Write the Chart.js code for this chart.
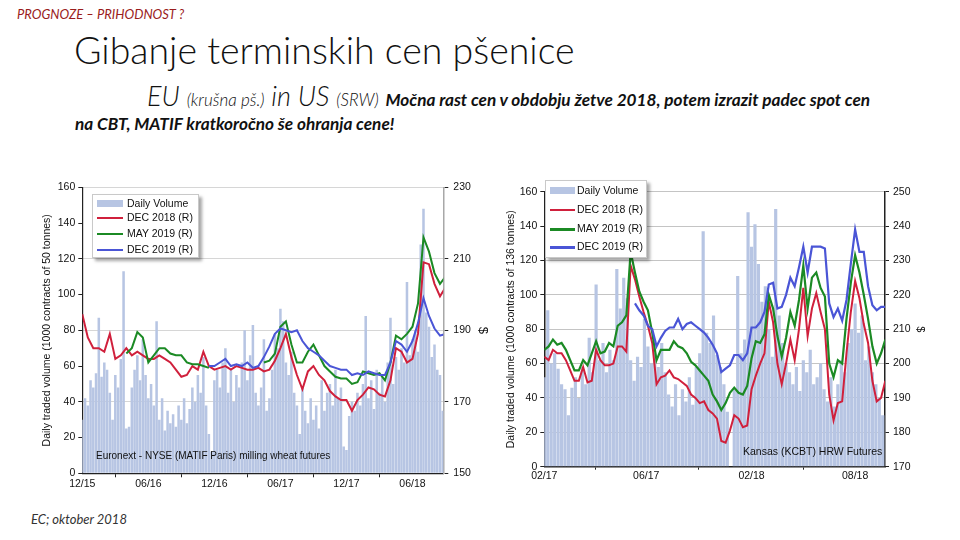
<!DOCTYPE html>
<html>
<head>
<meta charset="utf-8">
<script src="https://cdn.jsdelivr.net/npm/chart.js@4.4.1/dist/chart.umd.min.js"></script>
<style>
  body { margin: 0; width: 960px; height: 540px; background: #fff; position: relative; overflow: hidden; font-family: Lato, 'Open Sans', sans-serif; }
  .abs { position: absolute; white-space: nowrap; line-height: 1.2; }
  #kicker { left: 17px; top: 7px; font-size: 13px; font-style: italic; color: #9a1c1c; }
  #title { left: 74px; top: 27px; font-size: 37.5px; font-weight: 300; color: #111; }
  #sub1 { left: 147px; top: 80px; font-size: 27px; font-style: italic; font-weight: 300; color: #111; }
  #sub1 .small { font-size: 17px; }
  #sub1 b, #sub2 { font-size: 17.2px; font-weight: 700; font-style: italic; color: #111; }
  #sub2 { left: 75px; top: 114px; }
  #footer { left: 31px; top: 512px; font-size: 13px; font-style: italic; color: #333; }
  .chartbox { position: absolute; }
  .legend { position: absolute; background: #fff; border: 1px solid #c9c9c9; box-shadow: 3px 3px 3px rgba(0,0,0,0.35); font-family: 'Liberation Sans', Arial, sans-serif; color: #111; }
  .legend .row { position: absolute; left: 0; white-space: nowrap; }
  .legend .sw { position: absolute; }
  .note { position: absolute; white-space: nowrap; font-family: 'Liberation Sans', Arial, sans-serif; color: #111; }
</style>
</head>
<body>
<div id="kicker" class="abs">PROGNOZE – PRIHODNOST ?</div>
<div id="title" class="abs">Gibanje terminskih cen pšenice</div>
<div id="sub1" class="abs">EU <span class="small">(krušna pš.)</span> in US <span class="small">(SRW)</span> <b>Močna rast cen v obdobju žetve 2018, potem izrazit padec spot cen</b></div>
<div id="sub2" class="abs">na CBT, MATIF kratkoročno še ohranja cene!</div>
<div id="footer" class="abs">EC; oktober 2018</div>

<div class="chartbox" style="left:38px; top:176px; width:462px; height:318px;"><canvas id="matifChart" width="462" height="318"></canvas></div>
<div class="chartbox" style="left:500px; top:180px; width:430px; height:305px;"><canvas id="kcbtChart" width="430" height="305"></canvas></div>

<!-- Legenda MATIF -->
<div class="legend" style="left:92px; top:194px; width:105px; height:62px; font-size:10.5px;">
  <div class="sw" style="left:4px; top:5px; width:26px; height:7px; background:#b7c5e3;"></div>
  <div class="row" style="left:34px; top:2px;">Daily Volume</div>
  <div class="sw" style="left:4px; top:22px; width:26px; height:2px; background:#d0203c;"></div>
  <div class="row" style="left:34px; top:16px;">DEC 2018 (R)</div>
  <div class="sw" style="left:4px; top:38px; width:26px; height:2px; background:#1b8a24;"></div>
  <div class="row" style="left:34px; top:32px;">MAY 2019 (R)</div>
  <div class="sw" style="left:4px; top:54px; width:26px; height:2px; background:#4a55d6;"></div>
  <div class="row" style="left:34px; top:48px;">DEC 2019 (R)</div>
</div>

<!-- Legenda KCBT -->
<div class="legend" style="left:545px; top:180px; width:100px; height:76px; font-size:10.5px;">
  <div class="sw" style="left:4px; top:6px; width:25px; height:7px; background:#b7c5e3;"></div>
  <div class="row" style="left:31px; top:3px;">Daily Volume</div>
  <div class="sw" style="left:4px; top:28px; width:25px; height:1.5px; background:#d0203c;"></div>
  <div class="row" style="left:31px; top:22px;">DEC 2018 (R)</div>
  <div class="sw" style="left:4px; top:47px; width:25px; height:2.5px; background:#1b8a24;"></div>
  <div class="row" style="left:31px; top:41px;">MAY 2019 (R)</div>
  <div class="sw" style="left:4px; top:65px; width:25px; height:2.5px; background:#4a55d6;"></div>
  <div class="row" style="left:31px; top:59px;">DEC 2019 (R)</div>
</div>

<div class="note" style="left:96px; top:450px; font-size:10px;">Euronext - NYSE (MATIF Paris) milling wheat futures</div>
<div class="note" style="left:743px; top:445px; font-size:10.5px;">Kansas (KCBT) HRW Futures</div>

<script>
// ---- Podatki: MATIF (x = meseci od 12/2015) ----
const matifVolStep = 0.25;
const matifLineStep = 0.5;
const matifTickPos = [0, 6, 12, 18, 24, 30];
const matifTickLabels = ['12/15', '06/16', '12/16', '06/17', '12/17', '06/18'];
const matifVolume = [
    30, 42, 38, 52, 48, 56, 87, 54, 62, 58, 45, 30, 55, 48, 64, 113,
    25, 26, 48, 58, 66, 52, 75, 55, 42, 50, 38, 85, 30, 42, 24, 35,
    28, 33, 26, 38, 30, 42, 28, 36, 48, 40, 55, 45, 65, 38, 22, 12,
    52, 58, 48, 62, 70, 45, 58, 40, 55, 48, 62, 80, 52, 66, 83, 45,
    38, 48, 75, 35, 42, 58, 78, 70, 92, 85, 62, 55, 68, 45, 38, 22,
    48, 35, 28, 42, 30, 38, 25, 52, 35, 45, 50, 38, 58, 42, 48, 15,
    13, 32, 40, 35, 45, 38, 50, 88, 42, 52, 36, 58, 45, 55, 40, 62,
    87, 50, 65, 58, 70, 62, 107, 66, 75, 80, 68, 128, 148, 90, 82, 65,
    72, 58, 55, 35
];
const matifDec18 = [
    194.5, 188, 185, 185, 184, 189, 182, 183, 185, 183,
    184, 183, 182, 182, 183, 182, 181, 179, 177, 177.5,
    180, 179, 184, 180, 179, 179.5, 180, 179, 180, 179.5,
    179, 179, 179.5, 178.5, 179, 181.5, 185, 189, 182.5, 177.5,
    173.5, 178.5, 180, 177.5, 176, 173, 171.5, 170.5, 170.5, 167.5,
    170.5, 172, 174, 173.5, 172, 171.5, 176, 185, 184, 181,
    182, 189, 209, 208.5, 203, 199.5, 202
];
const matifMay19 = [
    null, null, null, null, null, null, null, null,
    183.5, 185, 189.5, 188, 181, 183, 185, 185, 183.5, 183, 183, 181, 180.5, 180.5, 180, 179.5,
    null, null, null, null, null, null, null, null, null,
    181, 181.5, 183.5, 191, 192.5, 186, 181, 181, 184, 186, 183,
    180, 178.5, 177, 176.5, 176.5, 175, 175.5, 178.5, 178, 177.5,
    178, 176, 181, 188.5, 187.5, 189, 191, 197.5, 216, 212,
    206, 203, 205
];
const matifDec19 = [
    null, null, null, null, null, null, null, null, null, null,
    null, null, null, null, null, null, null, null, null, null,
    null, null, null,
    180, 180, 181, 182, 180, 180.5, 180, 181, 179.5, 180, 182.5,
    185.5, 189, 190.5, 190, 189.5, 190, 187, 185, 184, 183,
    181.5, 180, 179.5, 179, 179, 177.5, 178, 177.5, 178.5, 178,
    177.5, 177.5, 181, 187, 186, 184, 187, 192, 199, 194,
    190.5, 188.5, 189
];

// ---- Podatki: KCBT (x = meseci od 02/2017) ----
const kcbtVolStep = 0.2;
const kcbtLineStep = 0.25;
const kcbtTickPos = [0, 5.9, 12, 18];
const kcbtTickLabels = ['02/17', '06/17', '02/18', '08/18'];
const kcbtVolume = [
    52, 91, 60, 66, 57, 48, 45, 30, 46, 52,
    40, 58, 48, 75, 55, 106, 62, 72, 55, 68,
    62, 115, 92, 110, 98, 62, 50, 64, 58, 86,
    70, 60, 66, 58, 72, 55, 42, 35, 48, 30,
    45, 38, 52, 36, 58, 66, 137, 78, 72, 88,
    65, 58, 48, 32, 0, 45, 111, 66, 74, 148,
    128, 141, 118, 96, 105, 80, 64, 150, 88, 72,
    60, 55, 48, 58, 44, 62, 55, 68, 48, 52,
    60, 45, 38, 52, 35, 48, 62, 55, 72, 80,
    95, 78, 88, 62, 70, 55, 48, 40, 30
];
const kcbtDec18 = [
    202, 201, 204, 203, 203, 201, 198, 195, 195, 199,
    194.5, 195, 204, 201, 199.5, 199.5, 200, 205, 205, 203.5,
    228.5, 224.5, 219.5, 215, 211, 206, 194, 196, 196.5, 198,
    196, 195.5, 194.5, 193.5, 191, 190, 188.5, 189, 186.5, 185.5,
    184, 177.5, 177, 180.5, 185, 184, 181.5, 182, 192.5, 196.5,
    200, 203, 218, 212, 200, 194, 200, 207, 201, 210,
    222, 208, 216, 220.5, 215, 210, 191, 183.5, 188.5, 189,
    203, 215, 224, 219, 211.5, 206, 195, 189, 190, 195
];
const kcbtMay19 = [
    204, 205, 207, 205.5, 206, 204, 201, 198, 198, 201,
    199.5, 203, 206.5, 203, 203.5, 206, 205, 211, 212, 214,
    232.5, 226.5, 221, 218, 215.5, 209, 201, 204, 204, 204,
    206.5, 205, 204.5, 203, 200.5, 199.5, 198, 196.5, 195, 191,
    189, 186.5, 188.5, 191.5, 193, 191.5, 191, 193.5, 201.5, 206.5,
    206, 208.5, 220, 216, 208, 202, 207.5, 215, 211, 218.5,
    228.5, 216, 225, 226.5, 222, 219.5, 200, 196, 201, 200,
    213, 223.5, 231.5, 226.5, 220, 213, 205, 200, 203, 207
];
const kcbtDec19 = [
    null, null, null, null, null, null, null, null, null, null,
    null, null, null, null, null, null, null, null, null, null, null,
    217.5, 215.5, 214, 211, 210, 205, 207.5, 209.5, 210.5, 210.5,
    213, 210, 211.5, 212, 211, 210, 209, 207.5, 205.5, 203,
    197.5, 198.5, 199.5, 202.5, 202.5, 201, 203, 210.5, 210.5, 212,
    215, 223, 223.5, 216, 216.5, 220, 225, 222.5, 228, 234,
    226.5, 234, 234, 234, 233.5, 217.5, 213.5, 216, 212.5, 218.5,
    229, 239, 232.5, 232.5, 222.5, 217, 215.5, 216.5, 216.5
];

// Barve
const volColor = '#b7c5e3';
const redColor = '#d0203c';
const greenColor = '#1b8a24';
const blueColor = '#4a55d6';
const axisFont = { family: "'Liberation Sans', Arial, sans-serif", size: 10.5 };

function toPoints(values, step) {
    return values.map((v, i) => ({ x: i * step, y: v }));
}

function lineSet(label, values, step, color, width, order) {
    return {
        type: 'line',
        label: label,
        data: toPoints(values, step),
        yAxisID: 'y2',
        borderColor: color,
        borderWidth: width,
        pointRadius: 0,
        tension: 0,
        spanGaps: false,
        order: order
    };
}

// Graf MATIF
new Chart(document.getElementById('matifChart'), {
    type: 'bar',
    data: {
        datasets: [
            {
                label: 'Daily Volume',
                data: toPoints(matifVolume, matifVolStep),
                backgroundColor: volColor,
                categoryPercentage: 1,
                barPercentage: 0.92,
                yAxisID: 'y',
                order: 4
            },
            lineSet('DEC 2018 (R)', matifDec18, matifLineStep, redColor, 2, 3),
            lineSet('MAY 2019 (R)', matifMay19, matifLineStep, greenColor, 2, 2),
            lineSet('DEC 2019 (R)', matifDec19, matifLineStep, blueColor, 2, 1)
        ]
    },
    options: {
        responsive: false,
        animation: false,
        layout: { padding: { top: 9, left: 0, right: 0, bottom: 0 } },
        plugins: { legend: { display: false }, tooltip: { enabled: false } },
        scales: {
            x: {
                type: 'linear',
                min: 0,
                max: 32.8,
                offset: false,
                afterBuildTicks: (scale) => { scale.ticks = matifTickPos.map(v => ({ value: v })); },
                afterFit: (scale) => { scale.height = 20.7; },
                ticks: {
                    autoSkip: false, maxRotation: 0, padding: 1, color: '#111', font: axisFont,
                    callback: (value, index) => matifTickLabels[index]
                },
                grid: { drawOnChartArea: false, tickLength: 4, tickColor: '#222' },
                border: { color: '#222', width: 1.2 }
            },
            y: {
                position: 'left',
                min: 0,
                max: 160,
                ticks: { stepSize: 20, color: '#111', font: axisFont, padding: 3 },
                afterFit: (scale) => { scale.width = 44.3; },
                grid: { drawOnChartArea: false, tickLength: 4, tickColor: '#222' },
                border: { color: '#222', width: 1.2 },
                title: {
                    display: true,
                    text: 'Daily traded volume (1000 contracts of 50 tonnes)',
                    color: '#111',
                    font: { family: axisFont.family, size: 10.5 },
                    padding: { top: 3, bottom: 0 }
                }
            },
            y2: {
                position: 'right',
                min: 150,
                max: 230,
                ticks: { stepSize: 20, color: '#111', font: axisFont, padding: 5 },
                afterFit: (scale) => { scale.width = 56.7; },
                grid: { drawOnChartArea: true, color: '#d6d6d6', tickLength: 5, tickColor: '#222' },
                border: { color: '#a8a8a8', width: 1.5 },
                title: {
                    display: true,
                    text: '$',
                    color: '#111',
                    font: { family: axisFont.family, size: 13 },
                    padding: { top: 10, bottom: 0 }
                }
            }
        }
    }
});

// Graf KCBT
new Chart(document.getElementById('kcbtChart'), {
    type: 'bar',
    data: {
        datasets: [
            {
                label: 'Daily Volume',
                data: toPoints(kcbtVolume, kcbtVolStep),
                backgroundColor: volColor,
                categoryPercentage: 1,
                barPercentage: 0.92,
                yAxisID: 'y',
                order: 4
            },
            lineSet('DEC 2018 (R)', kcbtDec18, kcbtLineStep, redColor, 2, 3),
            lineSet('MAY 2019 (R)', kcbtMay19, kcbtLineStep, greenColor, 2.2, 2),
            lineSet('DEC 2019 (R)', kcbtDec19, kcbtLineStep, blueColor, 2.2, 1)
        ]
    },
    options: {
        responsive: false,
        animation: false,
        layout: { padding: { top: 11.7, left: 0, right: 0, bottom: 0 } },
        plugins: { legend: { display: false }, tooltip: { enabled: false } },
        scales: {
            x: {
                type: 'linear',
                min: 0,
                max: 19.73,
                offset: false,
                afterBuildTicks: (scale) => { scale.ticks = kcbtTickPos.map(v => ({ value: v })); },
                afterFit: (scale) => { scale.height = 18.3; },
                ticks: {
                    autoSkip: false, maxRotation: 0, padding: 0, color: '#111', font: axisFont,
                    callback: (value, index) => kcbtTickLabels[index]
                },
                grid: { drawOnChartArea: false, tickLength: 3, tickColor: '#222' },
                border: { color: '#222', width: 1.5 }
            },
            y: {
                position: 'left',
                min: 0,
                max: 160,
                ticks: { stepSize: 20, color: '#111', font: axisFont, padding: 3 },
                afterFit: (scale) => { scale.width = 44.3; },
                grid: { drawOnChartArea: true, color: '#c4c4c4', tickLength: 4, tickColor: '#222' },
                border: { color: '#222', width: 1.5 },
                title: {
                    display: true,
                    text: 'Daily traded volume (1000 contracts of 136 tonnes)',
                    color: '#111',
                    font: { family: axisFont.family, size: 10.5 },
                    padding: { top: 5, bottom: 0 }
                }
            },
            y2: {
                position: 'right',
                min: 170,
                max: 250,
                ticks: { stepSize: 10, color: '#111', font: axisFont, padding: 4 },
                afterFit: (scale) => { scale.width = 45; },
                grid: { drawOnChartArea: false, tickLength: 4, tickColor: '#222' },
                border: { color: '#222', width: 1.5 },
                title: {
                    display: true,
                    text: '$',
                    color: '#111',
                    font: { family: axisFont.family, size: 11 },
                    padding: { top: 3, bottom: 0 }
                }
            }
        }
    }
});
</script>
</body>
</html>
